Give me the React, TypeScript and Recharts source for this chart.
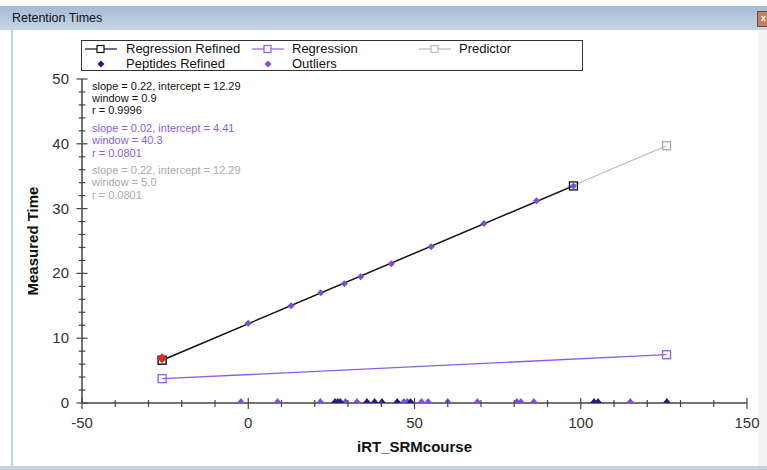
import React from 'react';
import { ScatterChart, Scatter, XAxis, YAxis } from 'recharts';

const FONT = '"Liberation Sans", Arial, sans-serif';

// tick values
const xTicks = [-50, -40, -30, -20, -10, 0, 10, 20, 30, 40, 50, 60, 70, 80, 90, 100, 110, 120, 130, 140, 150];
const yTicks = [0, 2, 4, 6, 8, 10, 12, 14, 16, 18, 20, 22, 24, 26, 28, 30, 32, 34, 36, 38, 40, 42, 44, 46, 48, 50];

// regression lines (end points)
const refinedLine = [{ x: -25.9, y: 6.6 }, { x: 97.8, y: 33.5 }];
const regressionLine = [{ x: -25.9, y: 3.75 }, { x: 125.8, y: 7.45 }];
const predictorLine = [{ x: -25.9, y: 6.6 }, { x: 125.8, y: 39.7 }];

// purple points sitting on the refined line
const onLineX = [0, 12.9, 21.8, 28.9, 33.8, 43.0, 55.0, 70.9, 86.7, 97.8];
const onLineY = [12.3, 15.0, 17.0, 18.4, 19.5, 21.5, 24.1, 27.7, 31.2, 33.5];

// points on the x axis (measured time 0)
const peptidesX = [26.1, 26.9, 27.7, 35.7, 38.0, 40.2, 44.8, 48.8, 104.0, 105.2, 125.9];
const outliersX = [-2.2, 8.8, 21.7, 29.2, 32.7, 46.8, 47.8, 52.1, 54.1, 60.0, 68.9, 80.8, 82.0, 85.9, 114.9];

const selected = [{ x: -25.9, y: 6.9 }];

const statsBlocks = [
  { color: '#111111', lines: ['slope = 0.22, intercept = 12.29', 'window = 0.9', 'r = 0.9996'] },
  { color: '#8a5ce6', lines: ['slope = 0.02, intercept = 4.41', 'window = 40.3', 'r = 0.0801'] },
  { color: '#a9a9a9', lines: ['slope = 0.22, intercept = 12.29', 'window = 5.0', 'r = 0.0801'] },
];

const NAVY = '#1c1f7c';
const PURPLE = '#7d4be0';
const REG_PURPLE = '#8c5ee8';
const GRAY = '#b9b9b9';

const onLineData = onLineX.map((x, i) => ({ x, y: onLineY[i] }));
const peptidesData = peptidesX.map(x => ({ x, y: 0 }));
const outliersData = outliersX.map(x => ({ x, y: 0 }));

const square = (stroke: string) => (p: any) => (
  <rect x={p.cx - 4} y={p.cy - 4} width={8} height={8} fill="#fff" fillOpacity={0} stroke={stroke} strokeWidth={1.3} />
);
const diamond = (fill: string, r = 3.5) => (p: any) => (
  <polygon points={`${p.cx},${p.cy - r} ${p.cx + r},${p.cy} ${p.cx},${p.cy + r} ${p.cx - r},${p.cy}`} fill={fill} />
);
const triangle = (fill: string) => (p: any) => (
  <polygon points={`${p.cx - 4},${p.cy} ${p.cx},${p.cy - 5} ${p.cx + 4},${p.cy}`} fill={fill} />
);

const YTick = ({ x, y, payload }: any) => {
  const major = payload.value % 10 === 0;
  const len = major ? 5.5 : 3.3;
  return (
    <g>
      <line x1={x - len} x2={x + len} y1={y} y2={y} stroke="#444" strokeWidth={1.2} />
      {major && (
        <text x={x - 13} y={y} dy={5} textAnchor="end" fontSize={15} fill="#333" fontFamily={FONT}>
          {payload.value}
        </text>
      )}
    </g>
  );
};

const XTick = ({ x, y, payload }: any) => {
  const major = payload.value % 50 === 0;
  return (
    <g>
      <line x1={x} x2={x} y1={major ? y - 5 : y - 3} y2={major ? y + 6 : y + 4} stroke="#444" strokeWidth={1.2} />
      {major && (
        <text x={x} y={y + 25} textAnchor="middle" fontSize={15} fill="#333" fontFamily={FONT}>
          {payload.value}
        </text>
      )}
    </g>
  );
};

const LegendLine = ({ color, marker }: { color: string; marker: 'square' | 'diamond' }) => (
  <svg width={32} height={10} style={{ position: 'absolute' }}>
    {marker === 'square' ? (
      <>
        <line x1={0} x2={32} y1={5} y2={5} stroke={color} strokeWidth={1.2} />
        <rect x={12} y={1.5} width={7} height={7} fill="#fff" stroke={color} strokeWidth={1.2} />
      </>
    ) : (
      <polygon points="16,1.5 19.5,5 16,8.5 12.5,5" fill={color} />
    )}
  </svg>
);

const legendItems = [
  { label: 'Regression Refined', color: '#111', marker: 'square', left: 85, text: 126, top: 49 },
  { label: 'Regression', color: REG_PURPLE, marker: 'square', left: 252, text: 292, top: 49 },
  { label: 'Predictor', color: GRAY, marker: 'square', left: 419, text: 459, top: 49 },
  { label: 'Peptides Refined', color: NAVY, marker: 'diamond', left: 85, text: 126, top: 64 },
  { label: 'Outliers', color: PURPLE, marker: 'diamond', left: 252, text: 292, top: 64 },
];

export default function App() {
  return (
    <div style={{ position: 'absolute', left: 0, top: 0, width: 767, height: 470, overflow: 'hidden', background: '#fff', fontFamily: FONT }}>
      {/* window chrome */}
      <div style={{ position: 'absolute', left: 0, top: 6, width: 767, height: 24, background: 'linear-gradient(#a3bad4, #c6d6e7)' }} />
      <div style={{ position: 'absolute', left: 12, top: 11, fontSize: 12.5, color: '#111', fontFamily: FONT }}>Retention Times</div>
      <div style={{ position: 'absolute', left: 757, top: 11, width: 11, height: 14, background: '#c4806a', border: '1px solid #7e4436', color: '#fff', fontSize: 9, lineHeight: '13px', textAlign: 'center', fontWeight: 'bold' }}>x</div>
      <div style={{ position: 'absolute', left: 11, top: 30, width: 2, height: 437, background: '#c4d2e0' }} />
      <div style={{ position: 'absolute', left: 758, top: 30, width: 9, height: 437, background: '#f4f4f4' }} />
      <div style={{ position: 'absolute', left: 0, top: 466, width: 767, height: 4, background: '#c5d4e3' }} />

      <div style={{ position: 'absolute', left: 0, top: 0 }}>
        <ScatterChart width={767} height={470} margin={{ top: 79, right: 20, left: 32, bottom: 37 }}>
          <XAxis
            type="number"
            dataKey="x"
            domain={[-50, 150]}
            ticks={xTicks}
            interval={0}
            tickSize={0}
            tickMargin={0}
            tickLine={false}
            tick={<XTick />}
            axisLine={{ stroke: '#444', strokeWidth: 1.5 }}
            height={30}
            label={(props: any) => {
              const vb = props.viewBox;
              return (
                <text x={vb.x + vb.width / 2} y={vb.y + 49} textAnchor="middle" fontSize={15} fontWeight="bold" fill="#111" fontFamily={FONT}>
                  iRT_SRMcourse
                </text>
              );
            }}
          />
          <YAxis
            type="number"
            dataKey="y"
            domain={[0, 50]}
            ticks={yTicks}
            interval={0}
            tickSize={0}
            tickMargin={0}
            tickLine={false}
            tick={<YTick />}
            axisLine={{ stroke: '#444', strokeWidth: 1.5 }}
            width={50}
            label={(props: any) => {
              const vb = props.viewBox;
              const cx = vb.x + 1;
              const cy = vb.y + vb.height / 2;
              return (
                <text x={cx} y={cy} transform={`rotate(-90 ${cx} ${cy})`} dy={5} textAnchor="middle" fontSize={15} fontWeight="bold" fill="#111" fontFamily={FONT}>
                  Measured Time
                </text>
              );
            }}
          />
          <Scatter data={predictorLine} line={{ stroke: GRAY, strokeWidth: 1.2 }} shape={square('#aaaaaa')} isAnimationActive={false} />
          <Scatter data={regressionLine} line={{ stroke: REG_PURPLE, strokeWidth: 1.3 }} shape={square(REG_PURPLE)} isAnimationActive={false} />
          <Scatter data={refinedLine} line={{ stroke: '#111', strokeWidth: 1.4 }} shape={square('#111')} isAnimationActive={false} />
          <Scatter data={onLineData} shape={diamond(PURPLE)} isAnimationActive={false} />
          <Scatter data={outliersData} shape={triangle(PURPLE)} isAnimationActive={false} />
          <Scatter data={peptidesData} shape={triangle(NAVY)} isAnimationActive={false} />
          <Scatter data={selected} shape={diamond('#e8261f', 5)} isAnimationActive={false} />
        </ScatterChart>
      </div>

      {/* legend */}
      <div style={{ position: 'absolute', left: 81, top: 40, width: 500, height: 29, border: '1.5px solid #333', background: '#fff' }} />
      {legendItems.map(item => (
        <React.Fragment key={item.label}>
          <div style={{ position: 'absolute', left: item.left, top: item.top - 5 }}>
            <LegendLine color={item.color} marker={item.marker as 'square' | 'diamond'} />
          </div>
          <div style={{ position: 'absolute', left: item.text, top: item.top - 8, fontSize: 13, lineHeight: '16px', color: '#111', whiteSpace: 'nowrap' }}>
            {item.label}
          </div>
        </React.Fragment>
      ))}

      {/* regression stats */}
      {statsBlocks.map((b, i) => (
        <div key={i} style={{ position: 'absolute', left: 92, top: 79.5 + i * 42.2, fontSize: 11, lineHeight: '12.4px', color: b.color, whiteSpace: 'nowrap' }}>
          {b.lines.map(l => (
            <div key={l}>{l}</div>
          ))}
        </div>
      ))}
    </div>
  );
}
